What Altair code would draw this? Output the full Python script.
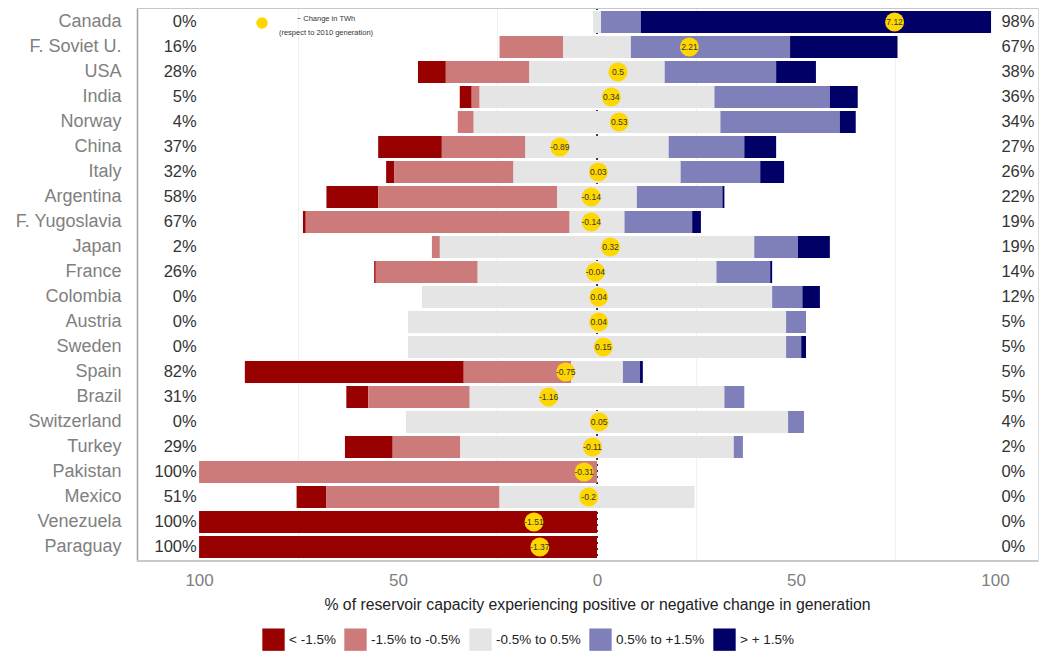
import altair as alt
import pandas as pd

countries = ["Canada", "F. Soviet U.", "USA", "India", "Norway", "China", "Italy",
             "Argentina", "F. Yugoslavia", "Japan", "France", "Colombia", "Austria",
             "Sweden", "Spain", "Brazil", "Switzerland", "Turkey", "Pakistan",
             "Mexico", "Venezuela", "Paraguay"]
neg_labels = ["0%", "16%", "28%", "5%", "4%", "37%", "32%", "58%", "67%", "2%", "26%",
              "0%", "0%", "0%", "82%", "31%", "0%", "29%", "100%", "51%", "100%", "100%"]
pos_labels = ["98%", "67%", "38%", "36%", "34%", "27%", "26%", "22%", "19%", "19%", "14%",
              "12%", "5%", "5%", "5%", "5%", "4%", "2%", "0%", "0%", "0%", "0%"]
dark_red = [0, 0, 7, 3, 0, 16, 2, 13, 0.7, 0, 0.4, 0, 0, 0, 55, 5.5, 0, 12, 0, 7.5, 100, 100]
light_red = [0, 16, 21, 2, 4, 21, 30, 45, 66.3, 2, 25.6, 0, 0, 0, 27, 25.5, 0, 17, 100, 43.5, 0, 0]
light_blue = [10, 40, 28, 29, 30, 19, 20, 21.5, 17, 11, 13.5, 7.6, 5, 3.8, 4.3, 5, 4, 2.3, 0, 0, 0, 0]
navy = [88, 27, 10, 7, 4, 8, 6, 0.5, 2.2, 8, 0.5, 4.4, 0, 1.2, 0.7, 0, 0, 0, 0, 0, 0, 0]
twh = [7.12, 2.21, 0.5, 0.34, 0.53, -0.89, 0.03, -0.14, -0.14, 0.32, -0.04, 0.04, 0.04,
       0.15, -0.75, -1.16, 0.05, -0.11, -0.31, -0.2, -1.51, -1.37]
twh_labels = ["7.12", "2.21", "0.5", "0.34", "0.53", "-0.89", "0.03", "-0.14", "-0.14",
              "0.32", "-0.04", "0.04", "0.04", "0.15", "-0.75", "-1.16", "0.05", "-0.11",
              "-0.31", "-0.2", "-1.51", "-1.37"]
categories = ["< -1.5%", "-1.5% to -0.5%", "-0.5% to 0.5%", "0.5% to +1.5%", "> + 1.5%"]
colors = ["#990000", "#CC7A7A", "#E5E5E5", "#7F7FB9", "#000066"]
x_ticks = [-100, -50, 0, 50, 100]
minor_grid = [-75, -25, 25, 75]
TWH_SCALE = 10.5

rows = []
for i, c in enumerate(countries):
    dr, lr, lb, nv = dark_red[i], light_red[i], light_blue[i], navy[i]
    h = (100 - dr - lr - lb - nv) / 2.0
    segs = [(categories[0], -h - lr - dr, -h - lr),
            (categories[1], -h - lr, -h),
            (categories[2], -h, h),
            (categories[3], h, h + lb),
            (categories[4], h + lb, h + lb + nv)]
    for cat, a, b in segs:
        if b - a > 0.01:
            rows.append({"country": c, "cat": cat, "start": a, "end": b})
bars_df = pd.DataFrame(rows)

info_df = pd.DataFrame({"country": countries, "neg": neg_labels, "pos": pos_labels,
                        "twh": twh, "twh_label": twh_labels})

W, H = 901, 553
FONT = "Liberation Sans"
X_TITLE = "% of reservoir capacity experiencing positive or negative change in generation"
x_scale = alt.Scale(domain=[-115.6, 110.8], nice=False, zero=False)
y_scale = alt.Scale(domain=countries, paddingInner=0.12, paddingOuter=0.12)

x_axis = alt.Axis(values=x_ticks, labelExpr="abs(datum.value)", ticks=False,
                  domain=False, grid=False, labelFontSize=17, labelColor="#808080",
                  labelPadding=11, labelFont=FONT, title=X_TITLE,
                  titleFontSize=15.8, titleColor="#222222", titleFontWeight="normal",
                  titlePadding=9, titleFont=FONT, titleX=460, titleAlign="center")
y_axis = alt.Axis(title=None, ticks=False, labelFontSize=18, labelColor="#808080",
                  labelPadding=16, domainColor="#a0a0a0", domainWidth=1.5,
                  labelFont=FONT, grid=False)


def xq(field):
    return alt.X(field, scale=x_scale, axis=x_axis, title=X_TITLE)


def ycat():
    return alt.Y("country:N", scale=y_scale, sort=countries, axis=y_axis, title=None)


grid = alt.Chart(pd.DataFrame({"v": minor_grid})).mark_rule(
    color="#f0f0f0", strokeWidth=1).encode(x=xq("v:Q"))

zero = alt.Chart(pd.DataFrame({"v": [0]})).mark_rule(
    color="black", strokeDash=[2, 4], strokeWidth=1.5).encode(x=xq("v:Q"))

bars = alt.Chart(bars_df).mark_bar(strokeWidth=0).encode(
    x=xq("start:Q"),
    x2="end:Q",
    y=ycat(),
    color=alt.Color("cat:N", scale=alt.Scale(domain=categories, range=colors),
                    legend=alt.Legend(orient="none", legendX=125, legendY=620,
                                      direction="horizontal", title=None,
                                      symbolType="square", symbolSize=500,
                                      symbolStrokeWidth=0, labelFontSize=13.5,
                                      labelColor="#222222", labelOffset=4,
                                      columnPadding=8, labelFont=FONT, columns=5)),
)

top_line = alt.Chart(pd.DataFrame({"a": [0]})).mark_rule(
    color="#c8c8c8", strokeWidth=2).encode(y=alt.value(0))
bottom_line = alt.Chart(pd.DataFrame({"a": [0]})).mark_rule(
    color="#c8c8c8", strokeWidth=2).encode(y=alt.value(H))

neg_text = alt.Chart(info_df).mark_text(
    align="right", baseline="middle", fontSize=16.5, color="#333333", font=FONT).encode(
    x=alt.datum(-100.6, scale=x_scale), y=ycat(), text="neg:N")
pos_text = alt.Chart(info_df).mark_text(
    align="left", baseline="middle", fontSize=16.5, color="#333333", font=FONT).encode(
    x=alt.datum(101.6, scale=x_scale), y=ycat(), text="pos:N")

dots = alt.Chart(info_df).transform_calculate(
    xpos=f"datum.twh * {TWH_SCALE}").mark_circle(
    size=360, color="#FFD700", opacity=1).encode(x=xq("xpos:Q"), y=ycat())
dot_text = alt.Chart(info_df).transform_calculate(
    xpos=f"datum.twh * {TWH_SCALE}").mark_text(
    fontSize=8.5, color="#333333", font=FONT, baseline="middle").encode(
    x=xq("xpos:Q"), y=ycat(), text="twh_label:N")

ann_df = pd.DataFrame({"a": [0]})
ann_dot = alt.Chart(ann_df).mark_circle(size=133, color="#FFD700", opacity=1).encode(
    x=alt.value(125), y=alt.value(15))
ann_t1 = alt.Chart(ann_df).mark_text(fontSize=7.5, color="#333333", font=FONT).encode(
    x=alt.value(189), y=alt.value(11), text=alt.value("~ Change in TWh"))
ann_t2 = alt.Chart(ann_df).mark_text(fontSize=7.5, color="#333333", font=FONT).encode(
    x=alt.value(189), y=alt.value(25), text=alt.value("(respect to 2010 generation)"))

chart = alt.layer(
    grid, zero, bars, top_line, bottom_line, neg_text, pos_text, dots, dot_text,
    ann_dot, ann_t1, ann_t2
).properties(
    width=W, height=H,
    autosize=alt.AutoSizeParams(type="none"),
    padding={"left": 129, "top": 0, "right": 2, "bottom": 94},
).configure_view(stroke=None).configure(font=FONT)

chart.save("out.html", embed_options={"renderer": "svg", "actions": False})
